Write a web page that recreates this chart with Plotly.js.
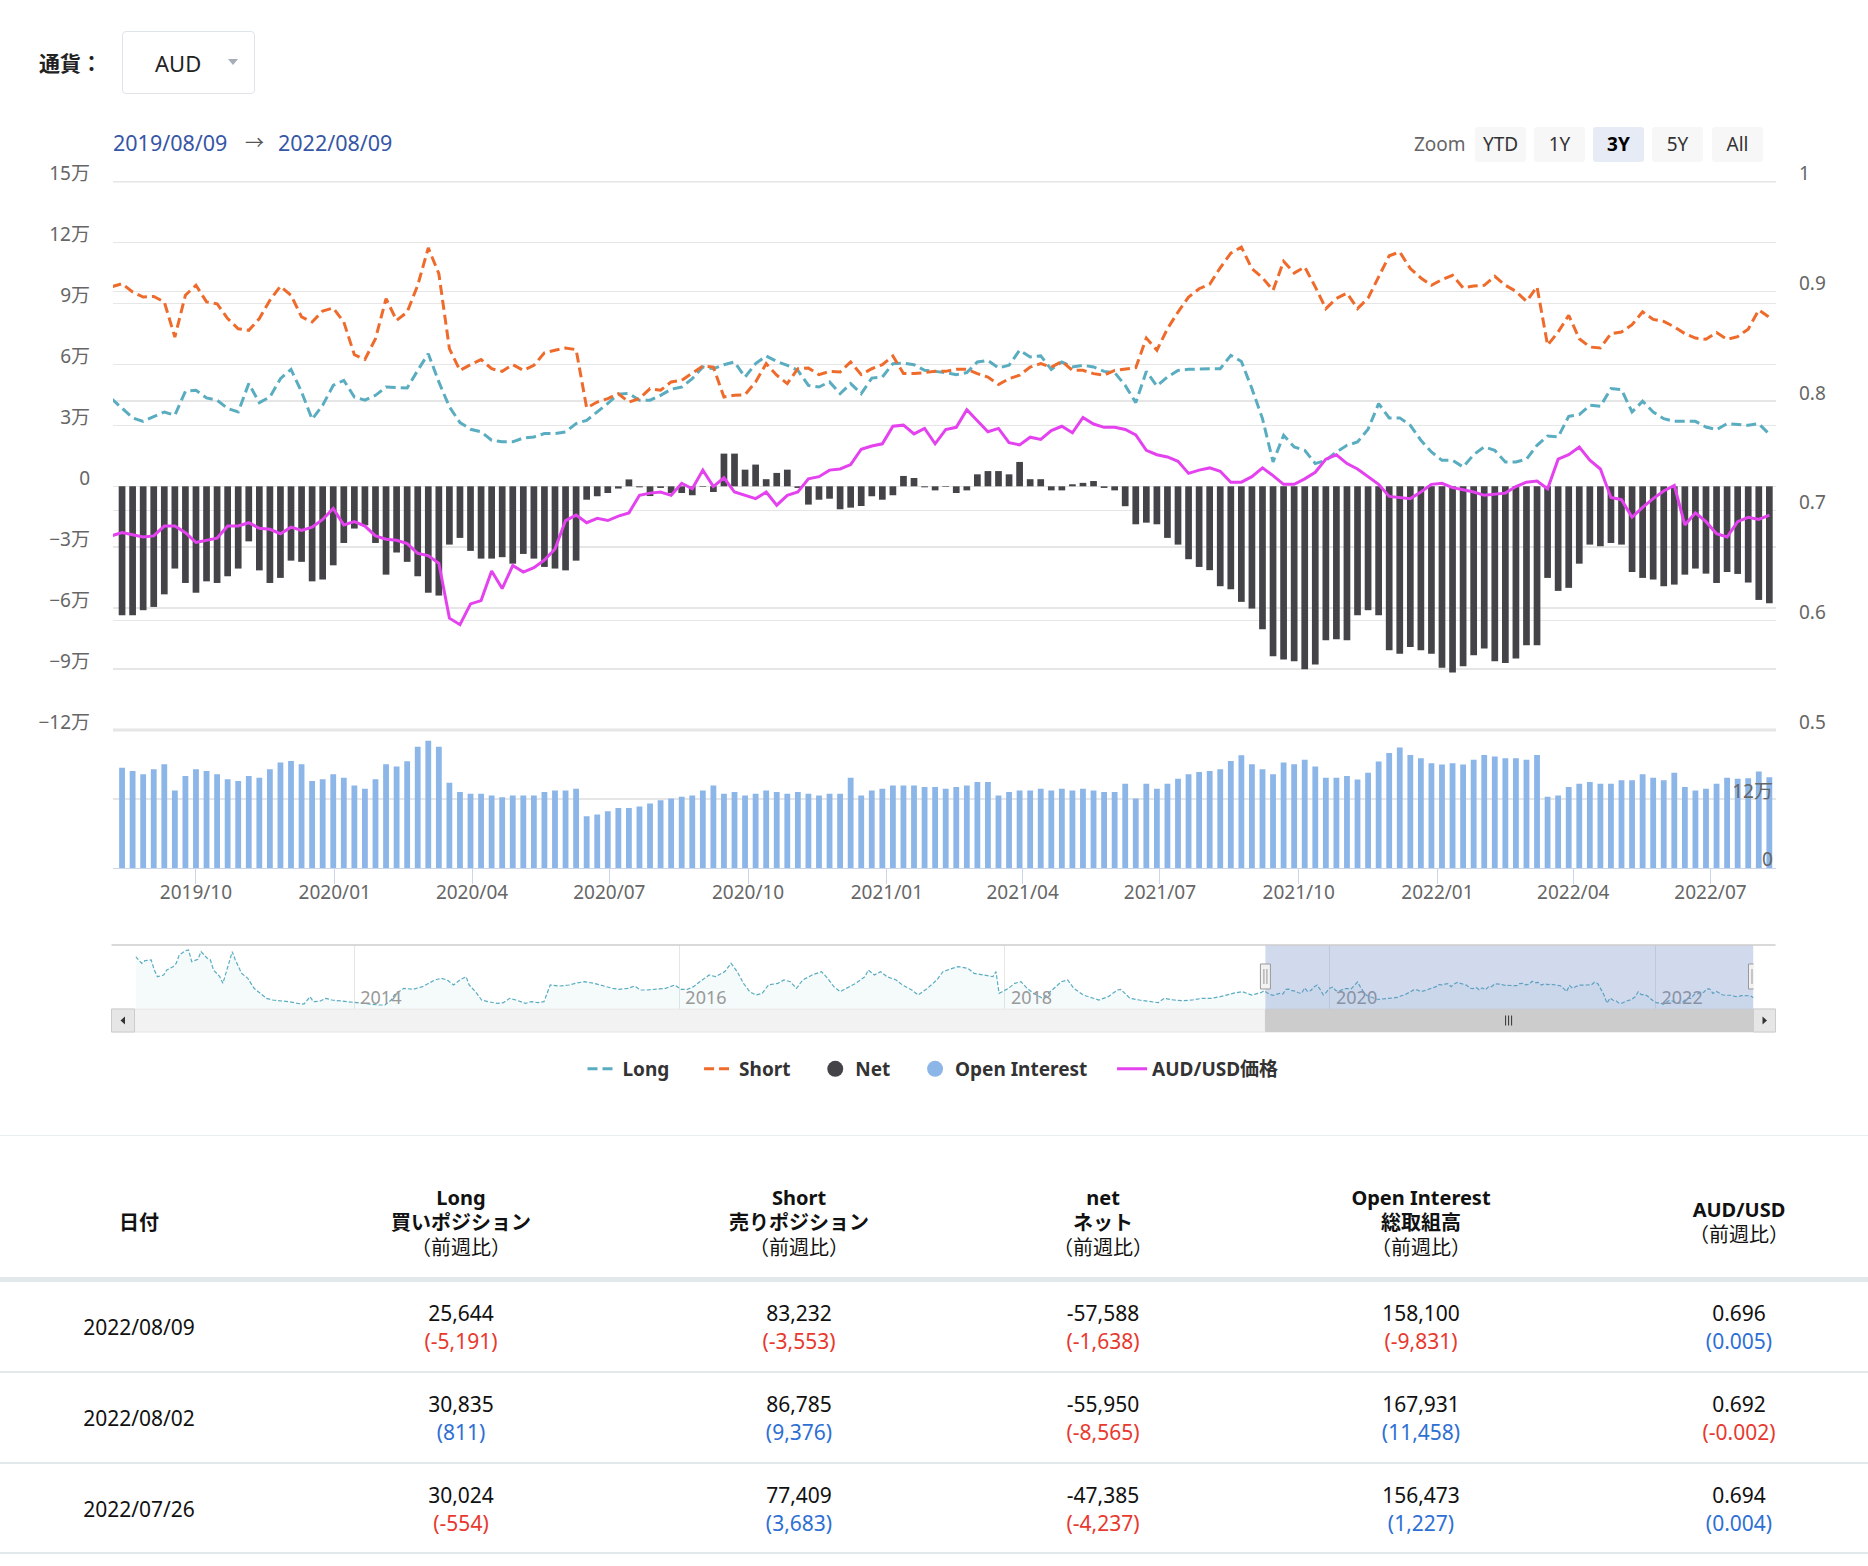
<!DOCTYPE html>
<html><head><meta charset="utf-8">
<script src="https://cdn.plot.ly/plotly-3.0.1.min.js"></script>
<style>
html,body{margin:0;padding:0;background:#fff;}
body{width:1868px;height:1566px;position:relative;overflow:hidden;font-family:"Noto Sans","Noto Sans CJK JP",sans-serif;color:#111;}
#chart{position:absolute;left:0;top:0;width:1868px;height:1120px;}
.abs{position:absolute;white-space:nowrap;}
.btn{position:absolute;top:127px;width:51px;height:35px;line-height:35px;background:#f7f7f7;border-radius:3px;text-align:center;font-size:19px;color:#333;}
.btn.sel{background:#e6ebf5;font-weight:700;color:#000;}
.cell{position:absolute;width:320px;text-align:center;font-size:21px;line-height:28px;}
.hcell{position:absolute;width:320px;text-align:center;font-size:20px;line-height:25px;}
.neg{color:#e8392f;}
.pos{color:#2e6fd3;}
.sep{position:absolute;left:0;width:1868px;background:#e3e8ea;}
.dr{position:absolute;top:127px;font-size:21.5px;line-height:32px;color:#3656a6;white-space:nowrap;}
</style></head><body>
<div id="chart"></div>

<div class="abs" style="left:39px;top:48px;font-size:21px;font-weight:700;color:#222;line-height:30px;">通貨：</div>
<div class="abs" style="left:122px;top:31px;width:131px;height:61px;border:1px solid #dfe4ea;border-radius:4px;"></div>
<div class="abs" style="left:155px;top:47px;font-size:22px;color:#222;line-height:32px;">AUD</div>
<div class="abs" style="left:228px;top:59px;width:0;height:0;border-left:5px solid transparent;border-right:5px solid transparent;border-top:6px solid #a4adb8;"></div>

<div class="dr" style="left:113px;">2019/08/09</div>
<div class="dr" style="left:245px;color:#555;font-size:19px;">→</div>
<div class="dr" style="left:278px;">2022/08/09</div>

<div class="abs" style="left:1414px;top:129px;font-size:19px;line-height:30px;color:#666;">Zoom</div>
<div class="btn" style="left:1475px;">YTD</div>
<div class="btn" style="left:1534px;">1Y</div>
<div class="btn sel" style="left:1593px;">3Y</div>
<div class="btn" style="left:1652px;">5Y</div>
<div class="btn" style="left:1712px;">All</div>

<div class="sep" style="top:1135px;height:1px;background:#e9eef0;"></div>
<div id="table"></div>

<script>
// ---------------- DATA ----------------
const dates = [
'2019-08-06','2019-08-13','2019-08-20','2019-08-27','2019-09-03','2019-09-10','2019-09-17','2019-09-24','2019-10-01','2019-10-08','2019-10-15','2019-10-22','2019-10-29','2019-11-05','2019-11-12','2019-11-19','2019-11-26','2019-12-03','2019-12-10','2019-12-17','2019-12-24','2019-12-31',
'2020-01-07','2020-01-14','2020-01-21','2020-01-28','2020-02-04','2020-02-11','2020-02-18','2020-02-25','2020-03-03','2020-03-10','2020-03-17','2020-03-24','2020-03-31','2020-04-07','2020-04-14','2020-04-21','2020-04-28','2020-05-05','2020-05-12','2020-05-19','2020-05-26','2020-06-02','2020-06-09','2020-06-16','2020-06-23','2020-06-30','2020-07-07','2020-07-14','2020-07-21','2020-07-28','2020-08-04','2020-08-11','2020-08-18','2020-08-25','2020-09-01','2020-09-08','2020-09-15','2020-09-22','2020-09-29','2020-10-06','2020-10-13','2020-10-20','2020-10-27','2020-11-03','2020-11-10','2020-11-17','2020-11-24','2020-12-01','2020-12-08','2020-12-15','2020-12-22','2020-12-29',
'2021-01-05','2021-01-12','2021-01-19','2021-01-26','2021-02-02','2021-02-09','2021-02-16','2021-02-23','2021-03-02','2021-03-09','2021-03-16','2021-03-23','2021-03-30','2021-04-06','2021-04-13','2021-04-20','2021-04-27','2021-05-04','2021-05-11','2021-05-18','2021-05-25','2021-06-01','2021-06-08','2021-06-15','2021-06-22','2021-06-29','2021-07-06','2021-07-13','2021-07-20','2021-07-27','2021-08-03','2021-08-10','2021-08-17','2021-08-24','2021-08-31','2021-09-07','2021-09-14','2021-09-21','2021-09-28','2021-10-05','2021-10-12','2021-10-19','2021-10-26','2021-11-02','2021-11-09','2021-11-16','2021-11-23','2021-11-30','2021-12-07','2021-12-14','2021-12-21','2021-12-28',
'2022-01-04','2022-01-11','2022-01-18','2022-01-25','2022-02-01','2022-02-08','2022-02-15','2022-02-22','2022-03-01','2022-03-08','2022-03-15','2022-03-22','2022-03-29','2022-04-05','2022-04-12','2022-04-19','2022-04-26','2022-05-03','2022-05-10','2022-05-17','2022-05-24','2022-05-31','2022-06-07','2022-06-14','2022-06-21','2022-06-28','2022-07-05','2022-07-12','2022-07-19','2022-07-26','2022-08-02','2022-08-09'];

const longPos = [43200,
38200,33700,32000,34200,36600,35000,46800,47300,43500,42400,38300,36600,50600,41200,44000,53000,57600,46500,33000,39900,
49700,52200,44000,42400,44800,48900,48600,48400,57100,65300,51400,39100,31400,28100,26800,22700,21900,21900,23800,24300,
26000,26000,26800,30900,32500,36600,40800,45400,45700,42400,42400,44800,47800,48900,53000,58800,57900,59900,61200,53800,
60400,64200,61500,59600,57100,49700,48900,51400,45600,50600,45600,53300,53800,60400,60700,59900,57100,56600,56000,55000,
56000,61200,62000,58300,59600,67000,63700,64200,57600,61200,58800,59600,58800,56600,56000,49700,41200,56600,49400,53800,
57100,57600,57900,57900,57900,64500,61500,48100,33300,12000,25100,19400,17700,11200,12800,16900,20200,21800,28100,40700,
33700,33700,30000,22700,16900,12800,12800,9500,15600,19400,17700,12000,12000,13300,20200,24800,24300,34500,35300,39900,
39400,48100,47600,36600,41900,36600,33300,32000,32000,32000,29200,27900,30900,30578,30024,30835,25644];

const shortPos = [98200,
99800,95700,93200,93500,90800,73500,94100,99000,90800,89900,82600,77600,76800,82600,91600,98500,94100,83400,80900,86300,
87800,80900,64800,62500,72700,92400,81700,85800,99000,117400,104700,67800,57100,59900,62400,57900,56600,59900,57100,59600,
65700,67000,68100,67300,38600,41500,43200,45600,41500,43200,48100,47300,51400,52200,55500,59200,58700,44000,44800,45100,
51400,60400,54700,50600,57900,58200,55000,56600,56300,61200,55000,57900,59900,64200,55500,55500,56000,56600,56600,57600,
57600,55500,53800,50100,53000,54700,58700,60400,58700,61500,57100,57100,55500,54700,57100,57900,58400,73000,67000,77600,
85800,93200,97300,99500,107600,114800,117800,107200,102700,96500,110800,105000,108000,98200,87500,92500,95100,87500,92700,103100,
113500,115400,107200,102600,99000,101800,103900,97700,98600,99000,103400,99000,96000,91100,98200,69500,76000,84200,72700,68600,
68100,75200,76000,79600,85900,82200,81200,78500,75200,73000,72400,75700,72400,73726,77409,86785,83232];

const netPos = [
-63500,-63500,-61000,-59400,-53200,-40500,-47600,-52400,-46800,-47600,-44300,-40500,-27100,-41400,-47600,-45100,-36600,-37200,-46800,-45900,
-38900,-27900,-20800,-19200,-27900,-43500,-32600,-37200,-44300,-52400,-53800,-28700,-25400,-31800,-35600,-35600,-34900,-38100,-33300,-35600,
-39700,-40500,-41400,-36600,-6600,-4900,-3300,-1100,3400,-500,-4800,-800,-3300,-3300,-4400,-300,-2800,16100,16100,8200,
10700,3500,6600,8200,-800,-9000,-6600,-6100,-11300,-10500,-9700,-4900,-6600,-4400,5100,4100,-500,-2000,-300,-3300,
-2000,5900,7500,7500,5900,12000,3500,3500,-2000,-2000,1000,1700,2600,-800,-2000,-9800,-18700,-17900,-18700,-25400,
-28700,-35900,-39700,-41300,-49200,-50700,-56900,-60200,-70400,-83700,-85300,-86200,-90100,-87800,-75800,-75300,-75800,-63500,-61000,-63500,
-80700,-82400,-79100,-80700,-82400,-89400,-91700,-88600,-83200,-79900,-86200,-87000,-84800,-78300,-78300,-45100,-51500,-50000,-38100,-28700,
-29500,-27900,-28700,-42200,-45100,-45900,-49200,-48400,-43500,-40500,-43000,-47600,-42200,-43148,-47385,-55950,-57588];

const openInterest = [
174600,168900,163100,171900,180600,135100,160200,171900,168900,163100,154400,151500,160200,157300,171900,183500,186400,180600,151500,154400,
163100,157300,143900,138100,154400,180600,176500,185800,210900,221400,210900,148600,132200,129300,129300,126400,123500,126400,126400,126400,
132200,135100,135100,138100,90300,93200,99000,104800,104800,107100,112400,118200,121100,124100,126400,135100,143900,129300,132200,126400,
129300,135100,132200,129300,132200,129300,126400,129300,129300,157300,126400,135100,138100,143900,143900,143900,140900,140900,138100,140900,
143900,149700,149700,126400,132200,135100,135100,138100,135100,138100,135100,138100,135100,132200,132200,146800,121100,146800,138100,146800,
155500,163100,167200,168900,171900,186400,196300,180600,171900,163100,183500,180600,188200,176500,157300,157300,160200,154300,166000,185300,
199900,209700,196400,191100,182400,180000,182400,180000,188200,196400,194000,191100,191100,188200,196400,124100,126400,141000,146800,149700,
146800,146800,152600,152600,163100,157300,152600,166000,141000,135100,138100,146800,157300,155246,156473,167931,158100];

const priceAud = [0.677,
0.680,0.678,0.676,0.677,0.686,0.686,0.680,0.671,0.673,0.675,0.686,0.686,0.689,0.684,0.683,0.679,0.685,0.682,0.685,0.692,
0.702,0.687,0.690,0.686,0.677,0.674,0.673,0.670,0.661,0.659,0.652,0.602,0.596,0.615,0.618,0.645,0.629,0.650,0.644,0.648,
0.655,0.665,0.691,0.696,0.689,0.693,0.691,0.695,0.698,0.714,0.716,0.717,0.714,0.725,0.720,0.737,0.722,0.730,0.717,0.714,
0.711,0.717,0.705,0.714,0.717,0.729,0.731,0.737,0.738,0.742,0.756,0.759,0.761,0.777,0.778,0.770,0.775,0.761,0.774,0.776,
0.792,0.782,0.772,0.775,0.762,0.760,0.767,0.765,0.773,0.777,0.771,0.785,0.779,0.776,0.776,0.774,0.769,0.755,0.751,0.749,
0.745,0.734,0.737,0.739,0.736,0.726,0.726,0.731,0.739,0.732,0.724,0.724,0.729,0.735,0.747,0.751,0.743,0.738,0.731,0.724,
0.713,0.712,0.711,0.717,0.724,0.725,0.721,0.719,0.717,0.714,0.715,0.716,0.722,0.726,0.727,0.720,0.747,0.751,0.758,0.746,
0.738,0.712,0.710,0.694,0.703,0.711,0.718,0.723,0.687,0.698,0.690,0.679,0.676,0.690,0.694,0.692,0.696];

// navigator (long positions, 2012-2019, read from the small overview strip)
const navDates = ['2012-08-28','2012-09-11','2012-09-18','2012-10-02','2012-10-09','2012-10-16','2012-10-30','2012-11-06','2012-11-20','2012-11-27','2012-12-04','2012-12-18','2012-12-25',
'2013-01-01','2013-01-15','2013-01-22','2013-02-05','2013-02-12','2013-02-19','2013-03-05','2013-03-12','2013-03-19','2013-04-02','2013-04-09','2013-04-23','2013-05-07','2013-05-21','2013-06-04','2013-06-18','2013-07-02','2013-07-23','2013-08-06','2013-08-27','2013-09-10','2013-09-24','2013-10-01','2013-10-15','2013-10-29','2013-11-12','2013-11-26','2013-12-10','2013-12-31',
'2014-01-14','2014-02-04','2014-02-25','2014-03-11','2014-03-25','2014-04-01','2014-04-22','2014-05-13','2014-06-03','2014-06-17','2014-07-01','2014-07-15','2014-07-29','2014-08-12','2014-08-26','2014-09-09','2014-09-16','2014-09-30','2014-10-14','2014-10-28','2014-11-18','2014-12-02','2014-12-16','2014-12-30',
'2015-01-20','2015-02-03','2015-02-17','2015-03-03','2015-03-17','2015-04-07','2015-04-28','2015-05-12','2015-06-02','2015-06-23','2015-07-14','2015-08-04','2015-08-18','2015-09-08','2015-09-22','2015-10-06','2015-10-20','2015-11-10','2015-12-01','2015-12-22',
'2016-01-05','2016-01-19','2016-02-02','2016-02-16','2016-03-08','2016-03-22','2016-04-05','2016-04-12','2016-04-26','2016-05-10','2016-05-24','2016-06-07','2016-06-21','2016-07-05','2016-07-19','2016-08-09','2016-08-23','2016-09-06','2016-09-20','2016-10-04','2016-10-25','2016-11-15','2016-11-29','2016-12-13','2016-12-27',
'2017-01-10','2017-01-31','2017-02-21','2017-02-28','2017-03-14','2017-03-28','2017-04-11','2017-05-02','2017-05-16','2017-06-06','2017-06-20','2017-07-11','2017-08-01','2017-08-15','2017-09-05','2017-09-19','2017-10-10','2017-10-24','2017-11-14','2017-12-05','2017-12-12','2017-12-19','2017-12-26',
'2018-01-09','2018-01-23','2018-02-06','2018-02-20','2018-03-06','2018-03-27','2018-04-17','2018-05-08','2018-05-22','2018-06-05','2018-06-26','2018-07-17','2018-07-31','2018-08-21','2018-09-11','2018-09-18','2018-10-09','2018-10-30','2018-11-20','2018-12-11','2018-12-25',
'2019-01-15','2019-02-05','2019-02-26','2019-03-19','2019-04-09','2019-04-30','2019-05-28','2019-06-18','2019-07-09','2019-07-30'];
const navLong = [128800,112000,118700,120400,95300,78600,82800,95300,103700,112000,132900,143800,145500,
116200,122100,141300,124600,120400,95300,78600,61900,87000,141300,120400,87000,74500,49400,36900,24300,20100,18500,16000,11800,10100,28500,16000,16800,24300,20100,18500,16000,13500,
11800,10100,7600,7600,20100,32700,49400,46900,53600,61900,70300,74500,70300,57800,70300,78600,57800,41000,20100,16000,11800,13500,24300,20100,
11800,16000,13500,16000,57800,55200,57800,61900,66100,61900,55200,49400,46900,49400,55200,45200,45200,46900,49400,57800,
46900,46900,53600,66100,82800,78600,87000,91200,112000,91200,61900,41000,32700,36900,57800,61900,70300,66100,49400,70300,82800,91200,74500,53600,41000,
49400,61900,78600,95300,82800,91200,78600,70300,57800,45200,32700,49400,70300,91200,99500,103700,99500,87000,82800,78600,91200,36900,41000,
49400,61900,66100,49400,36900,24300,45200,66100,70300,49400,32700,24300,20100,28500,45200,46900,24300,20100,16000,13500,24300,
20100,18500,20100,24300,24300,28500,36900,41000,32700,38500];

const leftTickVals = [-120000,-90000,-60000,-30000,0,30000,60000,90000,120000,150000];
const leftTickText = ['−12万','−9万','−6万','−3万','0','3万','6万','9万','12万','15万'];
const rightTickVals = [0.5,0.6,0.7,0.8,0.9,1.0];
const rightTickText = ['0.5','0.6','0.7','0.8','0.9','1'];
const oiTickVals = [0,120000];
const oiTickText = ['0','12万'];
const seriesNames = ['Long','Short','Net','Open Interest','AUD/USD価格'];
const selStart = '2019-08-09', selEnd = '2022-08-09';

// table
const tblDate = ['2022/08/09','2022/08/02','2022/07/26'];
const tblLong = ['25,644','30,835','30,024'];
const tblLongChg = ['-5,191','811','-554'];
const tblShort = ['83,232','86,785','77,409'];
const tblShortChg = ['-3,553','9,376','3,683'];
const tblNet = ['-57,588','-55,950','-47,385'];
const tblNetChg = ['-1,638','-8,565','-4,237'];
const tblOI = ['158,100','167,931','156,473'];
const tblOIChg = ['-9,831','11,458','1,227'];
const tblPx = ['0.696','0.692','0.694'];
const tblPxChg = ['0.005','-0.002','0.004'];

// ---------------- LAYOUT HELPERS ----------------
const PL = 113, PR = 1776, PH = 1120;
const fx = px => (px - PL) / (PR - PL);
const fy = py => 1 - py / PH;
const FONT = '"Noto Sans", "Noto Sans CJK JP", sans-serif';
const C_LONG = '#5aadc0', C_SHORT = '#ef6b2c', C_NET = '#434348', C_OI = '#8cb5e8', C_PX = '#e442ef';
const pad = k => '\u00a0'.repeat(k);

const barDates = dates.slice(1);
const navX = navDates.concat(dates);
const navY = navLong.concat(longPos);

const traces = [
  {type:'scatter', mode:'lines', name:seriesNames[0] + pad(5), x:dates, y:longPos, xaxis:'x', yaxis:'y',
   line:{color:C_LONG, width:3, dash:'10px,5px'}},
  {type:'scatter', mode:'lines', name:seriesNames[1] + pad(4), x:dates, y:shortPos, xaxis:'x', yaxis:'y',
   line:{color:C_SHORT, width:3, dash:'10px,5px'}},
  {type:'scatter', mode:'markers', name:seriesNames[2] + pad(4), x:[null], y:[null], xaxis:'x', yaxis:'y',
   marker:{color:C_NET, size:16}},
  {type:'scatter', mode:'markers', name:seriesNames[3] + pad(4), x:[null], y:[null], xaxis:'x', yaxis:'y',
   marker:{color:C_OI, size:16}},
  {type:'scatter', mode:'lines', name:seriesNames[4], x:dates, y:priceAud, xaxis:'x', yaxis:'y2',
   line:{color:C_PX, width:3}},
  {type:'bar', name:seriesNames[2], x:barDates, y:netPos, xaxis:'x', yaxis:'y', showlegend:false,
   width:3.84e8, marker:{color:C_NET, line:{width:0}}},
  {type:'bar', name:seriesNames[3], x:barDates, y:openInterest, xaxis:'x', yaxis:'y3', showlegend:false,
   width:3.32e8, marker:{color:C_OI, line:{width:0}}},
  {type:'scatter', mode:'lines', name:'navigator', x:navX, y:navY, xaxis:'x2', yaxis:'y4', showlegend:false,
   line:{color:C_LONG, width:1.2, dash:'4px,2px'}, fill:'tozeroy', fillcolor:'rgba(90,173,192,0.06)'}
];

const shapes = [];
shapes.push({type:'line', xref:'paper', yref:'paper', x0:0, x1:1, y0:fy(730), y1:fy(730), line:{color:'#e6e6e6', width:3}, layer:'below'});
shapes.push({type:'line', xref:'paper', yref:'paper', x0:0, x1:1, y0:fy(181.7), y1:fy(181.7), line:{color:'#e6e6e6', width:1.5}, layer:'below'});
// scrollbar
shapes.push({type:'rect', xref:'paper', yref:'paper', x0:fx(111.5), x1:fx(1775.5), y0:fy(1032), y1:fy(1009), fillcolor:'#f2f2f2', line:{color:'#e6e6e6', width:1}});
shapes.push({type:'rect', xref:'x2', yref:'paper', x0:selStart, x1:selEnd, y0:fy(1031.5), y1:fy(1009.5), fillcolor:'#cccccc', line:{color:'#cccccc', width:1}});
shapes.push({type:'rect', xref:'paper', yref:'paper', x0:fx(111.5), x1:fx(134.5), y0:fy(1032), y1:fy(1009), fillcolor:'#e6e6e6', line:{color:'#cccccc', width:1}});
shapes.push({type:'rect', xref:'paper', yref:'paper', x0:fx(1753.5), x1:fx(1775.5), y0:fy(1032), y1:fy(1009), fillcolor:'#e6e6e6', line:{color:'#cccccc', width:1}});
shapes.push({type:'path', xref:'paper', yref:'paper', path:`M ${fx(120.5)},${fy(1020.5)} L ${fx(125)},${fy(1016.5)} L ${fx(125)},${fy(1024.5)} Z`, fillcolor:'#333', line:{width:0}});
shapes.push({type:'path', xref:'paper', yref:'paper', path:`M ${fx(1767)},${fy(1020.5)} L ${fx(1762.5)},${fy(1016.5)} L ${fx(1762.5)},${fy(1024.5)} Z`, fillcolor:'#333', line:{width:0}});
[-3,0,3].forEach(d => shapes.push({type:'line', xref:'paper', yref:'paper', x0:fx(1508.6+d), x1:fx(1508.6+d), y0:fy(1025.5), y1:fy(1015.5), line:{color:'#333', width:1}}));
// navigator mask + outline
shapes.push({type:'rect', xref:'x2', yref:'paper', x0:selStart, x1:selEnd, y0:fy(1009), y1:fy(945), fillcolor:'rgba(102,133,194,0.3)', line:{width:0}, layer:'above'});
shapes.push({type:'line', xref:'paper', yref:'paper', x0:fx(111.5), x1:fx(1775.5), y0:fy(945), y1:fy(945), line:{color:'#cccccc', width:1.5}});
// handles
[selStart, selEnd].forEach(d => {
  shapes.push({type:'rect', xref:'x2', yref:'paper', xsizemode:'pixel', xanchor:d, x0:-5, x1:5, y0:fy(989), y1:fy(964), fillcolor:'#f2f2f2', line:{color:'#999999', width:1}});
  [-1.5,1.5].forEach(o => shapes.push({type:'line', xref:'x2', yref:'paper', xsizemode:'pixel', xanchor:d, x0:o, x1:o, y0:fy(984), y1:fy(969), line:{color:'#999999', width:1}}));
});

const tickFont = {family:FONT, size:19, color:'#666'};
const layout = {
  width:1868, height:PH,
  margin:{l:PL, r:1868-PR, t:0, b:0, pad:0},
  paper_bgcolor:'#fff', plot_bgcolor:'rgba(0,0,0,0)',
  font:{family:FONT},
  barmode:'overlay',
  showlegend:true,
  legend:{orientation:'h', x:fx(933), xanchor:'center', y:fy(1069), yanchor:'middle',
          font:{family:FONT, size:19, color:'#333', weight:700}, bgcolor:'rgba(0,0,0,0)'},
  xaxis:{type:'date', domain:[0,1], anchor:'y3', range:['2019-08-07','2022-08-13 10:00'],
         tickformat:'%Y/%m', dtick:'M3', tick0:'2019-01-01', ticks:'outside', ticklen:15,
         tickcolor:'#ccd6eb', tickwidth:1, showline:true, linecolor:'#ccd6eb', linewidth:1,
         showgrid:false, zeroline:false, tickfont:tickFont, ticklabelstandoff:-8},
  yaxis:{domain:[fy(730), fy(181.7)], anchor:'x', range:[-120000,150000], tickvals:leftTickVals, ticktext:leftTickText,
         showgrid:true, gridcolor:'#e6e6e6', gridwidth:1.5, zeroline:false, ticks:'', tickfont:tickFont,
         ticklabelstandoff:22, ticklabelshift:-8},
  yaxis2:{overlaying:'y', side:'right', anchor:'x', range:[0.5,1.0], tickvals:rightTickVals, ticktext:rightTickText,
          showgrid:true, gridcolor:'#e6e6e6', gridwidth:1.5, zeroline:false, ticks:'', tickfont:tickFont,
          ticklabelstandoff:22, ticklabelshift:-8},
  yaxis3:{domain:[fy(868.3), fy(730)], anchor:'x', side:'right', range:[0,240000], tickvals:oiTickVals.slice(1), ticktext:oiTickText.slice(1),
          ticklabelposition:'inside', showgrid:true, gridcolor:'#e6e6e6', gridwidth:1.5, zeroline:false, ticks:'',
          tickfont:tickFont, ticklabelshift:-8},
  xaxis2:{type:'date', domain:[fx(135.6), fx(1753.5)], anchor:'y4', range:['2012-08-28','2022-08-09'],
          tickformat:'%Y', dtick:'M24', tick0:'2014-01-01', ticklabelposition:'inside right', ticks:'',
          showgrid:true, gridcolor:'#e6e6e6', gridwidth:1, zeroline:false, showline:false,
          tickfont:{family:FONT, size:18, color:'#999'}, ticklabelshift:6, ticklabelstandoff:-5},
  yaxis4:{domain:[fy(1009), fy(945)], anchor:'x2', range:[-2400,158000], showgrid:false, zeroline:false,
          showticklabels:false, ticks:''},
  annotations:[{xref:'paper', yref:'y3', x:1, y:oiTickVals[0], text:oiTickText[0], showarrow:false,
                xanchor:'right', yanchor:'middle', yshift:9, xshift:-1, font:tickFont}],
  shapes:shapes
};

Plotly.newPlot('chart', traces, layout, {staticPlot:true, displayModeBar:false});

// ---------------- TABLE ----------------
const colX = [139, 461, 799, 1103, 1421, 1739];
const headers = [
  ['<b>日付</b>'],
  ['<b>Long</b>','<b>買いポジション</b>','（前週比）'],
  ['<b>Short</b>','<b>売りポジション</b>','（前週比）'],
  ['<b>net</b>','<b>ネット</b>','（前週比）'],
  ['<b>Open Interest</b>','<b>総取組高</b>','（前週比）'],
  ['<b>AUD/USD</b>','（前週比）']
];
let html = '';
headers.forEach((h, c) => {
  const top = 1222 - h.length * 25 / 2;
  html += `<div class="hcell" style="left:${colX[c]-160}px;top:${top}px;">${h.join('<br>')}</div>`;
});
html += `<div class="sep" style="top:1277px;height:5px;"></div>`;
const rowCenters = [1327, 1418, 1509];
const sepTops = [1371, 1462, 1552];
const cls = s => (s.trim().startsWith('-') ? 'neg' : 'pos');
for (let r = 0; r < 3; r++) {
  const cy = rowCenters[r];
  html += `<div class="cell" style="left:${colX[0]-160}px;top:${cy-14}px;">${tblDate[r]}</div>`;
  const pairs = [[tblLong,tblLongChg],[tblShort,tblShortChg],[tblNet,tblNetChg],[tblOI,tblOIChg],[tblPx,tblPxChg]];
  pairs.forEach((p, k) => {
    html += `<div class="cell" style="left:${colX[k+1]-160}px;top:${cy-28}px;">${p[0][r]}<br><span class="${cls(p[1][r])}">(${p[1][r]})</span></div>`;
  });
  html += `<div class="sep" style="top:${sepTops[r]}px;height:2px;"></div>`;
}
document.getElementById('table').innerHTML = html;
</script>
</body></html>
